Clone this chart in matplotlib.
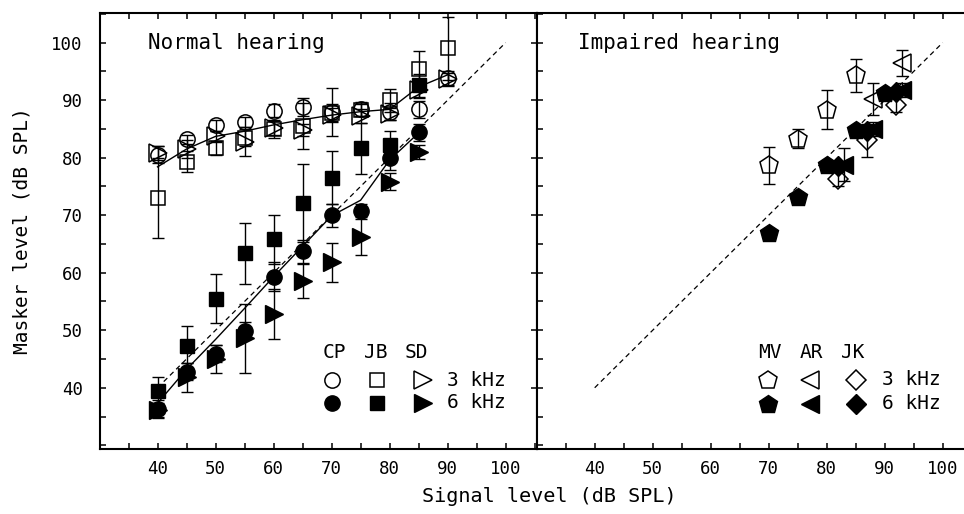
import matplotlib
matplotlib.use('Agg')
import matplotlib.pyplot as plt
from matplotlib.ticker import MultipleLocator

plt.rcParams['font.family'] = ['DejaVu Sans Mono']

# ---------------- data: normal hearing ----------------
sig3 = [40, 45, 50, 55, 60, 65, 70, 75, 80, 85, 90]
cp3 = [80.5, 83.2, 85.6, 86.2, 88.2, 88.8, 88.0, 88.4, 88.0, 88.4, 93.8]
cp3_err = [1.5, 0.8, 1.0, 0.8, 1.2, 1.5, 4.2, 1.2, 1.5, 1.5, 1.2]
jb3 = [73.0, 79.3, 81.7, 83.5, 85.0, 85.5, 87.8, 88.3, 90.0, 95.5, 99.0]
jb3_err = [7.0, 1.8, 1.2, 1.5, 1.5, 4.0, 1.5, 1.0, 2.0, 3.0, 5.5]
sd3 = [80.8, 81.5, 83.7, 82.8, 85.1, 84.8, 87.4, 87.3, 87.6, 91.8, 93.6]
sd3_err = [1.2, 1.5, 1.0, 2.5, 1.2, 1.0, 1.2, 1.2, 1.0, 1.5, 1.2]
mean3 = [78.4, 81.5, 83.7, 84.6, 85.7, 86.6, 87.4, 88.0, 88.4, 92.3, 94.4]

sig6 = [40, 45, 50, 55, 60, 65, 70, 75, 80, 85]
cp6 = [36.3, 42.8, 45.9, 49.9, 59.3, 63.7, 70.0, 70.8, 79.9, 84.4]
cp6_err = [1.5, 1.5, 1.5, 1.5, 2.5, 2.0, 2.0, 1.2, 2.0, 1.5]
jb6 = [39.5, 47.2, 55.5, 63.4, 65.8, 72.1, 76.5, 81.6, 82.2, 92.6]
jb6_err = [2.3, 3.6, 4.2, 5.3, 4.2, 6.8, 4.6, 4.4, 2.5, 2.0]
sd6 = [36.2, 41.8, 45.0, 48.6, 52.8, 58.6, 61.8, 66.2, 75.8, 81.0]
sd6_err = [1.2, 2.5, 2.5, 6.0, 4.4, 3.0, 3.4, 3.2, 1.5, 1.2]
mean6 = [37.3, 43.2, 48.4, 53.8, 59.3, 64.6, 69.9, 72.6, 79.6, 84.3]

# ---------------- data: impaired hearing ----------------
mv3_x = [70, 75, 80, 85]
mv3 = [78.7, 83.3, 88.3, 94.3]
mv3_err = [3.2, 1.7, 3.4, 2.8]
mv6_x = [70, 75, 80, 85, 90]
mv6 = [66.9, 73.2, 78.8, 84.8, 91.2]
ar3_x = [88, 93]
ar3 = [90.2, 96.5]
ar3_err = [2.8, 2.3]
ar6_x = [83, 88, 93]
ar6 = [78.8, 85.0, 91.8]
ar6_err = [2.8, 1.2, 1.2]
jk3_x = [82, 87, 92]
jk3 = [76.3, 83.0, 89.2]
jk3_err = [1.2, 2.8, 1.3]
jk6_x = [82, 87, 92]
jk6 = [78.6, 84.6, 91.4]

diag = [40, 100]

W, H = 964, 514
fig = plt.figure(figsize=(W / 100, H / 100), dpi=100)

axL = fig.add_axes([99.5 / W, (H - 449.3) / H, 437.2 / W, 436 / H])
axR = fig.add_axes([536.7 / W, (H - 449.3) / H, (W - 536.7) / W, 436 / H])

LW = 1.0
EB = dict(fmt='none', ecolor='black', elinewidth=1.0, capsize=4, capthick=1.0, zorder=3)


def open_m(ax, x, y, m, ms):
    ax.plot(x, y, ls='none', marker=m, ms=ms, mfc='none', mec='black', mew=1.1, zorder=4)


def fill_m(ax, x, y, m, ms):
    ax.plot(x, y, ls='none', marker=m, ms=ms, mfc='black', mec='black', mew=1.0, zorder=4)


# ---- left panel ----
axL.plot(diag, diag, ls=(0, (4, 3)), color='black', lw=0.9, zorder=2)
axL.plot(sig3, mean3, color='black', lw=LW, zorder=2)
axL.plot(sig6, mean6, color='black', lw=LW, zorder=2)

for ys, es in [(cp3, cp3_err), (jb3, jb3_err), (sd3, sd3_err)]:
    axL.errorbar(sig3, ys, yerr=es, **EB)
for ys, es in [(cp6, cp6_err), (jb6, jb6_err), (sd6, sd6_err)]:
    axL.errorbar(sig6, ys, yerr=es, **EB)

open_m(axL, sig3, cp3, 'o', 11)
open_m(axL, sig3, jb3, 's', 10.5)
open_m(axL, sig3, sd3, '>', 13)
fill_m(axL, sig6, cp6, 'o', 11)
fill_m(axL, sig6, jb6, 's', 10.5)
fill_m(axL, sig6, sd6, '>', 13)

# ---- right panel ----
axR.plot(diag, diag, ls=(0, (4, 3)), color='black', lw=0.9, zorder=2)
axR.errorbar(mv3_x, mv3, yerr=mv3_err, **EB)
axR.errorbar(ar3_x, ar3, yerr=ar3_err, **EB)
axR.errorbar(ar6_x, ar6, yerr=ar6_err, **EB)
axR.errorbar(jk3_x, jk3, yerr=jk3_err, **EB)
open_m(axR, mv3_x, mv3, 'p', 13.5)
fill_m(axR, mv6_x, mv6, 'p', 13.5)
open_m(axR, ar3_x, ar3, '<', 13)
fill_m(axR, ar6_x, ar6, '<', 13)
open_m(axR, jk3_x, jk3, 'D', 10.5)
fill_m(axR, jk6_x, jk6, 'D', 10.5)

# ---- axes styling ----
for ax in (axL, axR):
    ax.set_ylim(29.3, 105.1)
    ax.xaxis.set_major_locator(MultipleLocator(10))
    ax.xaxis.set_minor_locator(MultipleLocator(5))
    ax.yaxis.set_major_locator(MultipleLocator(10))
    ax.yaxis.set_minor_locator(MultipleLocator(5))
    for s in ax.spines.values():
        s.set_linewidth(1.5)
    ax.tick_params(which='both', direction='in', length=4.5, width=1.1,
                   top=True, labelsize=12.5)
    ax.tick_params(axis='x', which='major', pad=8)
    ax.tick_params(axis='y', which='major', pad=12)

axL.set_xlim(30, 105.35)
axR.set_xlim(30, 103.67)
axL.set_xticks([40, 50, 60, 70, 80, 90, 100])
axR.set_xticks([40, 50, 60, 70, 80, 90, 100])
axL.set_yticks([40, 50, 60, 70, 80, 90, 100])
axR.set_yticks([40, 50, 60, 70, 80, 90, 100])
axL.tick_params(right=True, left=True)
axR.tick_params(left=True, right=False, labelleft=False)
axR.spines['right'].set_visible(False)

axL.text(0.111, 0.932, 'Normal hearing', transform=axL.transAxes,
         fontsize=15, ha='left', va='center')
axR.text(0.097, 0.932, 'Impaired hearing', transform=axR.transAxes,
         fontsize=15, ha='left', va='center')

# ---- legends (manual key) ----
LFS = 14
for txt, xx in [('CP', 0.511), ('JB', 0.605), ('SD', 0.699)]:
    axL.text(xx, 0.223, txt, transform=axL.transAxes, fontsize=LFS, ha='left', va='center')
axL.plot([0.532], [0.158], transform=axL.transAxes, marker='o', ms=11, mfc='none', mec='black', mew=1.1, clip_on=False)
axL.plot([0.634], [0.158], transform=axL.transAxes, marker='s', ms=10.5, mfc='none', mec='black', mew=1.1, clip_on=False)
axL.plot([0.741], [0.158], transform=axL.transAxes, marker='>', ms=13, mfc='none', mec='black', mew=1.1, clip_on=False)
axL.plot([0.532], [0.107], transform=axL.transAxes, marker='o', ms=11, mfc='black', mec='black', clip_on=False)
axL.plot([0.634], [0.107], transform=axL.transAxes, marker='s', ms=10.5, mfc='black', mec='black', clip_on=False)
axL.plot([0.741], [0.107], transform=axL.transAxes, marker='>', ms=13, mfc='black', mec='black', clip_on=False)
axL.text(0.794, 0.158, '3 kHz', transform=axL.transAxes, fontsize=LFS, ha='left', va='center')
axL.text(0.794, 0.107, '6 kHz', transform=axL.transAxes, fontsize=LFS, ha='left', va='center')

for txt, xx in [('MV', 0.519), ('AR', 0.616), ('JK', 0.711)]:
    axR.text(xx, 0.222, txt, transform=axR.transAxes, fontsize=LFS, ha='left', va='center')
axR.plot([0.541], [0.159], transform=axR.transAxes, marker='p', ms=13.5, mfc='none', mec='black', mew=1.1, clip_on=False)
axR.plot([0.640], [0.159], transform=axR.transAxes, marker='<', ms=13, mfc='none', mec='black', mew=1.1, clip_on=False)
axR.plot([0.747], [0.159], transform=axR.transAxes, marker='D', ms=10.5, mfc='none', mec='black', mew=1.1, clip_on=False)
axR.plot([0.541], [0.105], transform=axR.transAxes, marker='p', ms=13.5, mfc='black', mec='black', clip_on=False)
axR.plot([0.640], [0.105], transform=axR.transAxes, marker='<', ms=13, mfc='black', mec='black', clip_on=False)
axR.plot([0.747], [0.105], transform=axR.transAxes, marker='D', ms=10.5, mfc='black', mec='black', clip_on=False)
axR.text(0.809, 0.159, '3 kHz', transform=axR.transAxes, fontsize=LFS, ha='left', va='center')
axR.text(0.809, 0.105, '6 kHz', transform=axR.transAxes, fontsize=LFS, ha='left', va='center')

fig.text(549.5 / W, (H - 497) / H, 'Signal level (dB SPL)', fontsize=14.5, ha='center', va='center')
fig.text(22 / W, (H - 231) / H, 'Masker level (dB SPL)', fontsize=14, ha='center', va='center', rotation=90)

fig.savefig('out.png', dpi=100)
